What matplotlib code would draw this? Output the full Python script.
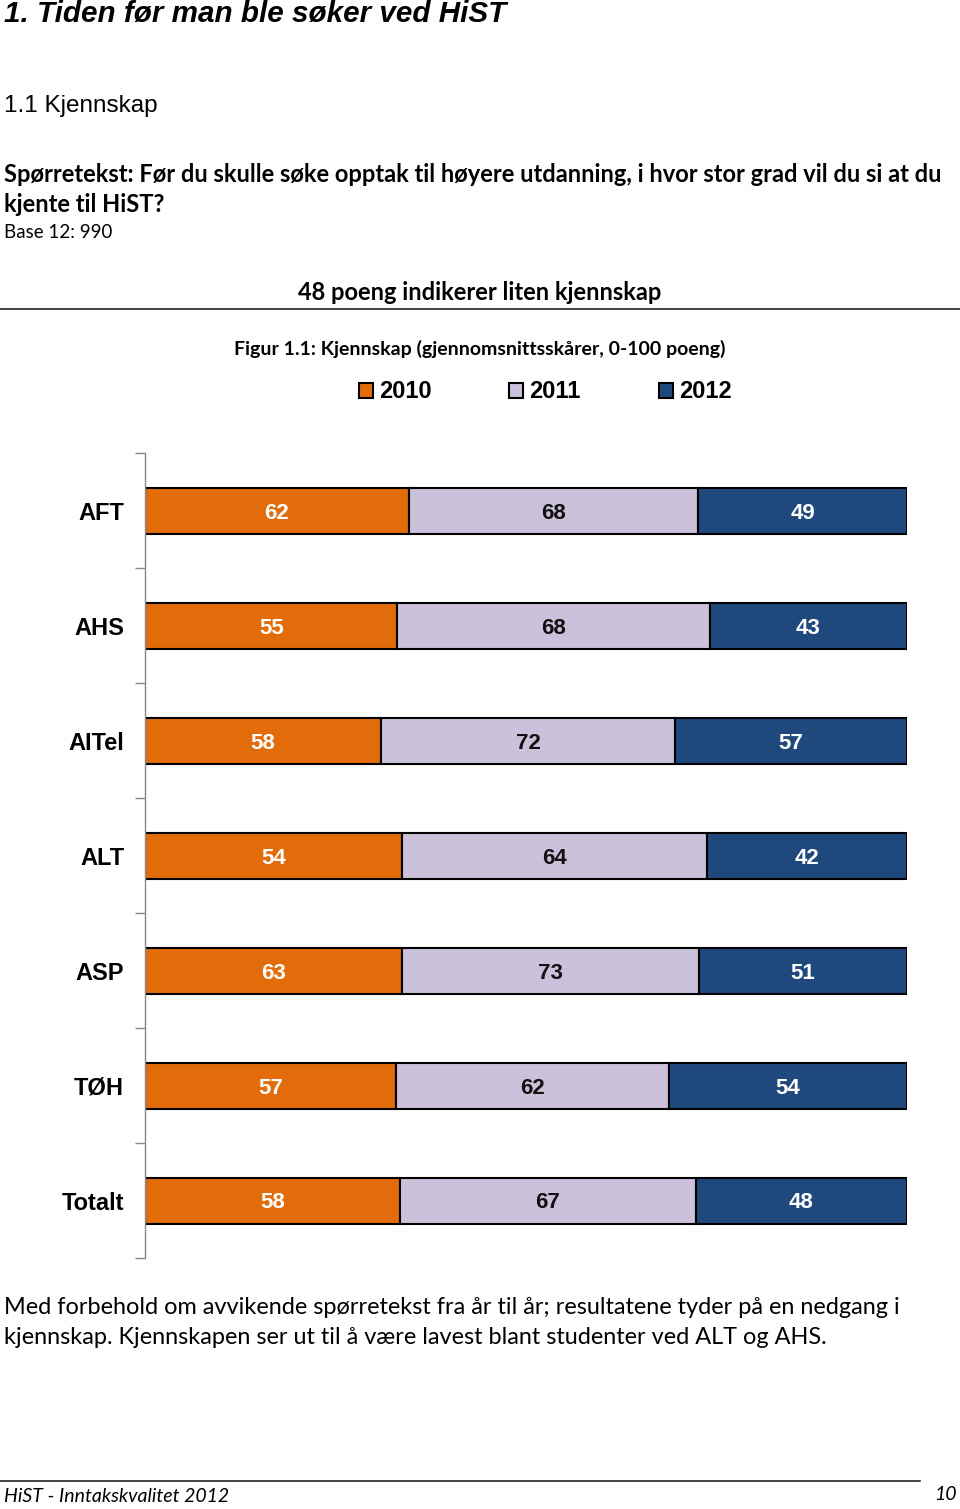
import numpy as np
import matplotlib
matplotlib.use('Agg')
import matplotlib.pyplot as plt
from matplotlib.lines import Line2D

# Data
categories = ['AFT', 'AHS', 'AITel', 'ALT', 'ASP', 'TØH', 'Totalt']
years = ['2010', '2011', '2012']
v2010 = [62, 55, 58, 54, 63, 57, 58]
v2011 = [68, 68, 72, 64, 73, 62, 67]
v2012 = [49, 43, 57, 42, 51, 54, 48]

colors = ['#E36C0A', '#CCC1DA', '#1F497D']
label_colors = ['white', '#111111', 'white']

W, H = 960, 1509
fig = plt.figure(figsize=(W / 100, H / 100), dpi=100)


def txt(x, y, s, **kw):
    # pixel coords -> figure fraction
    return fig.text(x / W, 1 - y / H, s, **kw)


def hline(x0, x1, y, lw=1.2):
    fig.add_artist(Line2D([x0 / W, x1 / W], [1 - y / H, 1 - y / H],
                          transform=fig.transFigure, color='#222222', lw=lw))


arial = 'Liberation Sans'
body = 'Lato'

# Header text of the page
txt(4, 14, '1. Tiden før man ble søker ved HiST', family=arial, fontsize=21.3,
    fontweight='bold', style='italic', va='center')
txt(4, 106, '1.1 Kjennskap', family=arial, fontsize=17.5, va='center')
txt(4, 174, 'Spørretekst: Før du skulle søke opptak til høyere utdanning, i hvor stor grad vil du si at du',
    family=body, fontsize=17.0, fontweight='bold', va='center')
txt(4, 205, 'kjente til HiST?', family=body, fontsize=17.0, fontweight='bold', va='center')
txt(4, 233, 'Base 12: 990', family=body, fontsize=13.5, va='center')
txt(480, 292, '48 poeng indikerer liten kjennskap', family=body, fontsize=17,
    fontweight='bold', ha='center', va='center')
hline(0, 960, 309)
txt(480, 349, 'Figur 1.1: Kjennskap (gjennomsnittsskårer, 0-100 poeng)', family=body,
    fontsize=14, fontweight='bold', ha='center', va='center')

# Chart
ax = fig.add_axes([145 / W, 1 - 1258 / H, 762 / W, 805 / H])
data = np.array([v2010, v2011, v2012], dtype=float)
shares = data / data.sum(axis=0)
y = np.arange(len(categories))
left = np.zeros(len(categories))
for i in range(len(years)):
    bars = ax.barh(y, shares[i], left=left, height=0.4, color=colors[i],
                   edgecolor='black', linewidth=1.5, label=years[i])
    anns = ax.bar_label(bars, labels=[str(v) for v in data[i].astype(int)], label_type='center',
                        color=label_colors[i], fontsize=16, fontweight='bold', family=arial)
    for a in anns:
        a.set_va('center_baseline')
    left += shares[i]

ax.set_xlim(0, 1)
ax.set_ylim(len(categories) - 0.5, -0.5)
ax.set_yticks(y)
ax.set_yticklabels(categories, family=arial, fontsize=17, fontweight='bold')
ax.set_yticks(np.arange(-0.5, len(categories), 1.0), minor=True)
ax.tick_params(axis='y', which='major', length=0, pad=15)
ax.tick_params(axis='y', which='minor', length=7, color='#888888', width=1)
ax.set_xticks([])
for s in ['top', 'right', 'bottom']:
    ax.spines[s].set_visible(False)
ax.spines['left'].set_color('#888888')
ax.spines['left'].set_linewidth(1)

fig.legend(loc='center', bbox_to_anchor=(545 / W, 1 - 392 / H), ncol=3,
           frameon=False, handlelength=0.6, handleheight=0.6, columnspacing=3.3,
           handletextpad=0.25, prop={'family': arial, 'size': 17, 'weight': 'bold'})

# Bottom text
txt(4, 1307, 'Med forbehold om avvikende spørretekst fra år til år; resultatene tyder på en nedgang i',
    family=body, fontsize=16.9, va='center')
txt(4, 1338, 'kjennskap. Kjennskapen ser ut til å være lavest blant studenter ved ALT og AHS.',
    family=body, fontsize=16.9, va='center')

hline(0, 920, 1481)
txt(4, 1497, 'HiST - Inntakskvalitet 2012', family=body, fontsize=14, style='italic', va='center')
txt(957, 1495, '10', family=body, fontsize=14, style='italic', va='center', ha='right')

fig.savefig('out.png', dpi=100)
